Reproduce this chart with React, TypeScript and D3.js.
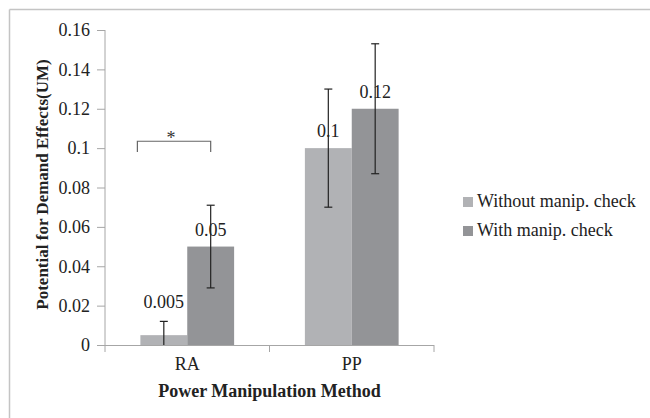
import { useEffect, useRef } from 'react'
import * as d3 from 'd3'

// categories and series
const categories = ['RA', 'PP']
const seriesNames = ['Without manip. check', 'With manip. check']
const withoutCheck = [0.005, 0.1]
const withCheck = [0.05, 0.12]
const withoutErr = [0.007, 0.03]
const withCheckErr = [0.021, 0.033]
const valueLabels = [['0.005', '0.05'], ['0.1', '0.12']]
const yTicks = [0, 0.02, 0.04, 0.06, 0.08, 0.1, 0.12, 0.14, 0.16]
const colors = ['#b1b2b5', '#939497']

const W = 650
const H = 418
const FONT = "'Liberation Serif', 'Times New Roman', serif"

export default function App() {
  const svgRef = useRef<SVGSVGElement>(null)

  useEffect(() => {
    if (!svgRef.current) return
    const svg = d3.select(svgRef.current)
    svg.selectAll('*').remove()

    const margin = { left: 105, right: 216, top: 30, bottom: 73 }
    const plotW = W - margin.left - margin.right
    const plotH = H - margin.top - margin.bottom

    // outer frame (only left & top visible)
    svg.append('line').attr('x1', 9.5).attr('x2', 9.5).attr('y1', 9.5).attr('y2', H)
      .attr('stroke', '#c4c4c4').attr('stroke-width', 1.5)
    svg.append('line').attr('x1', 9.5).attr('x2', W).attr('y1', 9.5).attr('y2', 9.5)
      .attr('stroke', '#c4c4c4').attr('stroke-width', 1.5)

    const g = svg.append('g').attr('transform', `translate(${margin.left},${margin.top})`)

    const x0 = d3.scaleBand().domain(categories).range([0, plotW]).paddingInner(0).paddingOuter(0)
    const x1 = d3.scaleBand().domain(seriesNames).range([0, x0.bandwidth()]).paddingOuter(0.755).paddingInner(0)
    const y = d3.scaleLinear().domain([0, 0.16]).range([plotH, 0])

    // y axis
    const yAxis = g.append('g').call(
      d3.axisLeft(y).tickValues(yTicks).tickSize(8).tickPadding(7).tickFormat(d => String(+d))
    )
    yAxis.attr('font-family', null).attr('font-size', null)
    yAxis.select('.domain').attr('stroke', '#a6a6a6').attr('d', `M0,0V${plotH}`)
    yAxis.selectAll('line').attr('stroke', '#a6a6a6')
    yAxis.selectAll('text').style('font-family', FONT).style('font-size', '18px').attr('fill', '#222')

    // bars
    const series = [withoutCheck, withCheck]
    const errs = [withoutErr, withCheckErr]
    series.forEach((vals, si) => {
      categories.forEach((cat, ci) => {
        const bx = x0(cat)! + x1(seriesNames[si])!
        const bw = x1.bandwidth()
        g.append('rect')
          .attr('x', bx).attr('width', bw)
          .attr('y', y(vals[ci])).attr('height', y(0) - y(vals[ci]))
          .attr('fill', colors[si])
      })
    })

    // x axis
    const xAxis = g.append('g').attr('transform', `translate(0,${plotH})`)
    xAxis.append('line').attr('x1', 0).attr('x2', plotW).attr('y1', 0.5).attr('y2', 0.5)
      .attr('stroke', '#a6a6a6')
    ;[0, ...categories.map(c => x0(c)! + x0.bandwidth())].forEach(t => {
      xAxis.append('line').attr('x1', t).attr('x2', t).attr('y1', 0).attr('y2', 7)
        .attr('stroke', '#a6a6a6')
    })
    categories.forEach(c => {
      xAxis.append('text').attr('x', x0(c)! + x0.bandwidth() / 2).attr('y', 25)
        .attr('text-anchor', 'middle').style('font-family', FONT).style('font-size', '18px')
        .attr('fill', '#222').text(c)
    })

    // error bars + value labels
    series.forEach((vals, si) => {
      categories.forEach((cat, ci) => {
        const cx = x0(cat)! + x1(seriesNames[si])! + x1.bandwidth() / 2
        const lo = Math.max(0, vals[ci] - errs[si][ci])
        const hi = vals[ci] + errs[si][ci]
        g.append('line').attr('x1', cx).attr('x2', cx).attr('y1', y(hi)).attr('y2', y(lo))
          .attr('stroke', '#222').attr('stroke-width', 1.2)
        g.append('line').attr('x1', cx - 4).attr('x2', cx + 4).attr('y1', y(hi)).attr('y2', y(hi))
          .attr('stroke', '#222').attr('stroke-width', 1.2)
        if (vals[ci] - errs[si][ci] > 0) {
          g.append('line').attr('x1', cx - 4).attr('x2', cx + 4).attr('y1', y(lo)).attr('y2', y(lo))
            .attr('stroke', '#222').attr('stroke-width', 1.2)
        }
        const ly = y(vals[ci]) - y(hi) < 20 ? y(hi) - 13 : y(vals[ci]) - 11
        g.append('text').attr('x', cx).attr('y', ly)
          .attr('text-anchor', 'middle').style('font-family', FONT).style('font-size', '18px')
          .attr('fill', '#222').text(valueLabels[ci][si])
      })
    })

    // significance bracket for RA
    const bL = x0('RA')! + x1(seriesNames[0])! - 3
    const bR = x0('RA')! + x1(seriesNames[1])! + x1.bandwidth() / 2
    const bY = y(0.1035)
    g.append('path')
      .attr('d', `M${bL},${y(0.098)}V${bY}H${bR}V${y(0.098)}`)
      .attr('fill', 'none').attr('stroke', '#666').attr('stroke-width', 1.2)
    g.append('text').attr('x', (bL + bR) / 2 - 3).attr('y', bY + 3)
      .attr('text-anchor', 'middle').style('font-family', FONT).style('font-size', '18px')
      .attr('fill', '#333').text('*')

    // axis titles
    svg.append('text')
      .attr('transform', `translate(48,${margin.top + plotH / 2 - 3}) rotate(-90)`)
      .attr('text-anchor', 'middle').style('font-family', FONT).style('font-size', '17px')
      .attr('font-weight', 'bold').attr('fill', '#222').text('Potential for Demand Effects(UM)')
    svg.append('text')
      .attr('x', margin.left + plotW / 2).attr('y', 397)
      .attr('text-anchor', 'middle').style('font-family', FONT).style('font-size', '18px')
      .attr('font-weight', 'bold').attr('fill', '#222').text('Power Manipulation Method')

    // legend
    const leg = svg.append('g').attr('transform', 'translate(463,197)')
    seriesNames.forEach((name, i) => {
      const row = leg.append('g').attr('transform', `translate(0,${i * 29})`)
      row.append('rect').attr('width', 10).attr('height', 10).attr('fill', colors[i])
      row.append('text').attr('x', 14).attr('y', 10).style('font-family', FONT)
        .style('font-size', '18px').attr('fill', '#222').text(name)
    })
  }, [])

  return (
    <svg ref={svgRef} width={W} height={H}
      style={{ position: 'absolute', left: 0, top: 0, background: '#fff' }} />
  )
}
